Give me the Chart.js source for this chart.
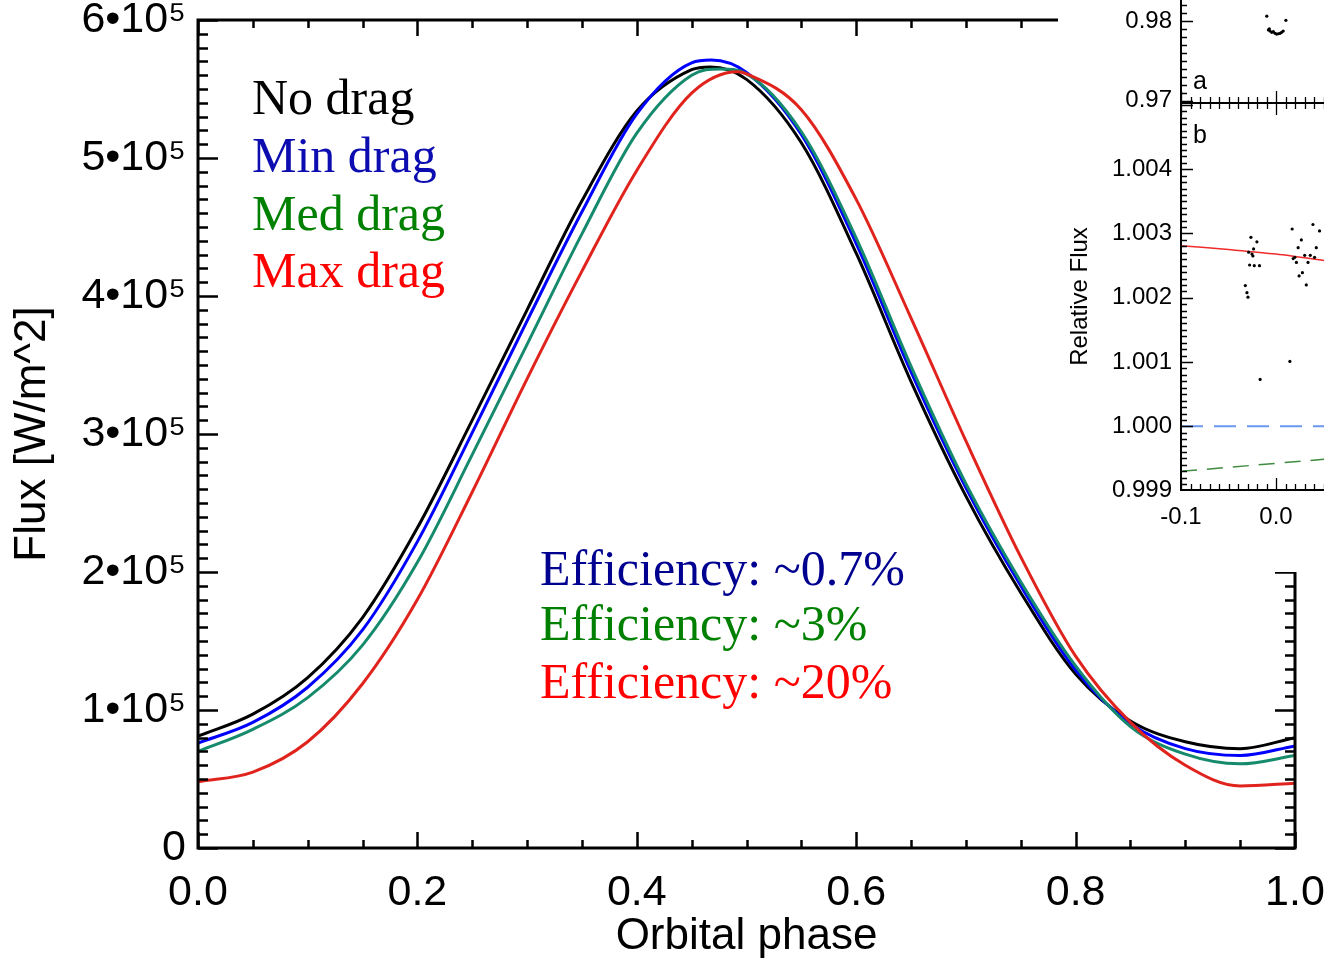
<!DOCTYPE html>
<html>
<head>
<meta charset="utf-8">
<script src="https://cdn.jsdelivr.net/npm/chart.js@4.4.1/dist/chart.umd.min.js"></script>
<style>
  html, body { margin: 0; padding: 0; background: #fff; overflow: hidden; }
  #wrap { position: relative; width: 1324px; height: 960px; overflow: hidden; }
  #main { position: absolute; left: 0; top: 0; }
  .note { position: absolute; font-family: "Liberation Serif", "Times New Roman", serif; font-size: 50px; line-height: 1; white-space: nowrap; }
  #inset { position: absolute; left: 1058px; top: 0; width: 266px; height: 572px; background: #fff; overflow: hidden; }
  #panelA { position: absolute; left: 0; top: -260px; }
  #panelB { position: absolute; left: 0; top: 0; }
  .tag { position: absolute; font-family: "Liberation Sans", Arial, sans-serif; font-size: 25px; line-height: 1; }
</style>
</head>
<body>
<div id="wrap">
  <canvas id="main" width="1324" height="960"></canvas>

  <div class="note" style="left:252px; top:72px; color:#000;">No drag</div>
  <div class="note" style="left:252px; top:130px; color:#0c0cb0;">Min drag</div>
  <div class="note" style="left:252px; top:188px; color:#008000;">Med drag</div>
  <div class="note" style="left:252px; top:245px; color:#ff0000;">Max drag</div>

  <div class="note" style="left:540px; top:543px; color:#000090;">Efficiency: ~0.7%</div>
  <div class="note" style="left:540px; top:598px; color:#008000;">Efficiency: ~3%</div>
  <div class="note" style="left:540px; top:656px; color:#ff0000;">Efficiency: ~20%</div>

  <div id="inset">
    <canvas id="panelB" width="420" height="545"></canvas>
    <canvas id="panelA" width="420" height="370"></canvas>
    <div class="tag" style="left:135px; top:68px;">a</div>
    <div class="tag" style="left:135px; top:122px;">b</div>
  </div>
</div>

<script>
// model light curves, flux in units of 1e5 W/m^2
// phases every 0.05, plus the peak of each curve
const noDragPhase  = [0, 0.05, 0.10, 0.15, 0.20, 0.25, 0.30, 0.35, 0.40, 0.45, 0.467, 0.50,
                      0.55, 0.60, 0.65, 0.70, 0.75, 0.80, 0.85, 0.90, 0.95, 1.00];
const noDrag       = [0.81, 0.97, 1.235, 1.67, 2.32, 3.10, 3.90, 4.69, 5.34, 5.64, 5.66, 5.57,
                      5.11, 4.31, 3.38, 2.55, 1.85, 1.26, 0.92, 0.77, 0.72, 0.80];
const minDragPhase = [0, 0.05, 0.10, 0.15, 0.20, 0.25, 0.30, 0.35, 0.40, 0.45, 0.468, 0.50,
                      0.55, 0.60, 0.65, 0.70, 0.75, 0.80, 0.85, 0.90, 0.95, 1.00];
const minDrag      = [0.76, 0.91, 1.165, 1.58, 2.22, 3.01, 3.82, 4.61, 5.32, 5.69, 5.71, 5.62,
                      5.17, 4.38, 3.45, 2.61, 1.90, 1.29, 0.90, 0.72, 0.67, 0.74];
const medDragPhase = [0, 0.05, 0.10, 0.15, 0.20, 0.25, 0.30, 0.35, 0.40, 0.45, 0.476, 0.50,
                      0.55, 0.60, 0.65, 0.70, 0.75, 0.80, 0.85, 0.90, 0.95, 1.00];
const medDrag      = [0.70, 0.86, 1.09, 1.47, 2.07, 2.85, 3.65, 4.45, 5.18, 5.60, 5.645, 5.61,
                      5.19, 4.42, 3.49, 2.64, 1.93, 1.32, 0.88, 0.68, 0.61, 0.67];
const maxDragPhase = [0, 0.05, 0.10, 0.15, 0.20, 0.25, 0.30, 0.35, 0.40, 0.45, 0.492, 0.50,
                      0.55, 0.60, 0.65, 0.70, 0.75, 0.80, 0.85, 0.90, 0.95, 1.00];
const maxDrag      = [0.48, 0.55, 0.77, 1.19, 1.80, 2.58, 3.40, 4.18, 4.91, 5.47, 5.625, 5.61,
                      5.35, 4.70, 3.84, 2.95, 2.11, 1.39, 0.91, 0.60, 0.45, 0.47];

const mainXTicks = [0, 0.2, 0.4, 0.6, 0.8, 1.0];
const mainYTicks = [0, 1, 2, 3, 4, 5, 6];

// inset (piece of another figure), panel a
const aPhase = [-0.0097, -0.0080, -0.0070, -0.0063, -0.0045, -0.0028, -0.0010, 0.0007,
                0.0024, 0.0042, 0.0059, 0.0076, 0.0104];
const aFlux  = [0.98065, 0.97891, 0.97904, 0.97878, 0.97861, 0.97870, 0.97848, 0.97839,
                0.97843, 0.97848, 0.97861, 0.97878, 0.98013];
const aYTicks = [0.97, 0.98, 0.99, 1.00, 1.01];

// panel b
const bPhase = [-0.0323, -0.0306, -0.0295, -0.0288, -0.0278, -0.0264, -0.0253, -0.0243,
                -0.0236, -0.0229, -0.0201, -0.0174, -0.0167,
                0.0146, 0.0170, 0.0181, 0.0198, 0.0215, 0.0233, 0.0243, 0.0267, 0.0278,
                0.0302, 0.0319, 0.0337, 0.0361, 0.0389, 0.0406, 0.0424, 0.0458];
const bFlux  = [1.00219, 1.00208, 1.00201, 1.00271, 1.00251, 1.00294, 1.00268, 1.00265,
                1.00276, 1.00250, 1.00287, 1.00250, 1.00073,
                1.00101, 1.00307, 1.00261, 1.00263, 1.00255, 1.00278, 1.00234, 1.00290, 1.00239,
                1.00266, 1.00220, 1.00255, 1.00266, 1.00314, 1.00263, 1.00278, 1.00304];
const fitPhase = [-0.10, -0.05, 0.00, 0.06];
const fitFlux  = [1.00281, 1.00275, 1.00268, 1.00256];
const basePhase = [-0.10, 0.06];
const baseFlux  = [1.00000, 1.00000];
const trendPhase = [-0.10, 0.06];
const trendFlux  = [0.99930, 0.99950];
const bXTicks = [-0.1, 0.0, 0.1, 0.2];
const bYTicks = [0.999, 1.000, 1.001, 1.002, 1.003, 1.004];

const SANS = "'Liberation Sans', Arial, Helvetica, sans-serif";
Chart.defaults.font.family = SANS;
Chart.defaults.color = '#000';

function pts(xs, ys) {
    return xs.map((x, i) => ({ x: x, y: ys[i] }));
}

// fixed axis box size, and no extra room for labels that hang over the ends
function fixSize(w, h) {
    return s => {
        if (w !== null) s.width = w;
        if (h !== null) s.height = h;
        s.paddingTop = 0; s.paddingBottom = 0;
        s.paddingLeft = 0; s.paddingRight = 0;
    };
}

// IDL-style frame: box plus inward major/minor ticks on all four sides
const frameTicks = {
    id: 'frameTicks',
    afterDatasetsDraw(chart, args, o) {
        const { ctx, chartArea: a, scales: { x, y } } = chart;
        ctx.save();
        ctx.strokeStyle = '#000';
        ctx.lineWidth = o.tickWidth;
        ctx.beginPath();
        const n1 = Math.ceil(x.min / o.xMinor - 1e-6), n2 = Math.floor(x.max / o.xMinor + 1e-6);
        for (let i = n1; i <= n2; i++) {
            const v = i * o.xMinor;
            const major = Math.abs(v / o.xMajor - Math.round(v / o.xMajor)) < 1e-4;
            const len = major ? o.xLen[0] : o.xLen[1];
            const px = Math.round(x.getPixelForValue(v)) + 0.5;
            ctx.moveTo(px, a.bottom); ctx.lineTo(px, a.bottom - len);
            ctx.moveTo(px, a.top); ctx.lineTo(px, a.top + len);
        }
        const m1 = Math.ceil(y.min / o.yMinor - 1e-6), m2 = Math.floor(y.max / o.yMinor + 1e-6);
        for (let i = m1; i <= m2; i++) {
            const v = i * o.yMinor;
            const major = Math.abs(v / o.yMajor - Math.round(v / o.yMajor)) < 1e-4;
            const len = major ? o.yLen[0] : o.yLen[1];
            const py = Math.round(y.getPixelForValue(v)) + 0.5;
            ctx.moveTo(a.left, py); ctx.lineTo(a.left + len, py);
            ctx.moveTo(a.right, py); ctx.lineTo(a.right - len, py);
        }
        ctx.stroke();
        ctx.lineWidth = o.frameWidth;
        ctx.strokeRect(a.left, a.top, a.right - a.left, a.bottom - a.top);
        ctx.restore();
    }
};

function curve(label, xs, values, color, order) {
    return {
        label: label,
        data: pts(xs, values),
        borderColor: color,
        borderWidth: 3,
        pointRadius: 0,
        cubicInterpolationMode: 'monotone',
        fill: false,
        order: order
    };
}

new Chart(document.getElementById('main'), {
    type: 'line',
    data: {
        datasets: [
            curve('No drag', noDragPhase, noDrag, '#000000', 4),
            curve('Min drag', minDragPhase, minDrag, '#0000ff', 3),
            curve('Med drag', medDragPhase, medDrag, '#168a6c', 2),
            curve('Max drag', maxDragPhase, maxDrag, '#e0231c', 1)
        ]
    },
    options: {
        responsive: false,
        animation: false,
        devicePixelRatio: 1,
        layout: { padding: { top: 20, right: 29, left: 0, bottom: 0 } },
        plugins: {
            legend: { display: false },
            tooltip: { enabled: false },
            frameTicks: {
                xMinor: 0.05, xMajor: 0.2, yMinor: 0.1, yMajor: 1,
                xLen: [16, 8], yLen: [20, 10], tickWidth: 2.5, frameWidth: 3
            }
        },
        scales: {
            x: {
                type: 'linear', min: 0, max: 1,
                afterBuildTicks: s => { s.ticks = mainXTicks.map(v => ({ value: v })); },
                afterFit: fixSize(null, 112),
                grid: { display: false, drawTicks: false },
                border: { display: false },
                ticks: { font: { size: 43 }, padding: 19, maxRotation: 0, autoSkip: false,
                         callback: v => v.toFixed(1) },
                title: { display: true, text: 'Orbital phase', font: { size: 44, lineHeight: 1 },
                         padding: { top: 0, bottom: 1 } }
            },
            y: {
                type: 'linear', min: 0, max: 6,
                afterBuildTicks: s => { s.ticks = mainYTicks.map(v => ({ value: v })); },
                afterFit: fixSize(198, null),
                grid: { display: false, drawTicks: false },
                border: { display: false },
                ticks: { font: { size: 43 }, padding: 12, autoSkip: false,
                         callback: v => v === 0 ? '0' : v + '\u2022' + '10\u2075' },
                title: { display: true, text: 'Flux [W/m^2]', font: { size: 44, lineHeight: 1 },
                         padding: { top: 11, bottom: 0 } }
            }
        }
    },
    plugins: [frameTicks]
});

const insetFrame = {
    xMinor: 0.01, xMajor: 0.1,
    xLen: [12, 6], tickWidth: 1.3, frameWidth: 2
};

// panel b
new Chart(document.getElementById('panelB'), {
    type: 'line',
    data: {
        datasets: [
            { data: pts(bPhase, bFlux), showLine: false, pointRadius: 1.6, pointBorderWidth: 0,
              pointBackgroundColor: '#000' },
            { data: pts(fitPhase, fitFlux), borderColor: '#f02a2a', borderWidth: 1.5, pointRadius: 0, tension: 0.3 },
            { data: pts(basePhase, baseFlux), borderColor: '#6a98ee', borderWidth: 2, pointRadius: 0,
              borderDash: [22, 11] },
            { data: pts(trendPhase, trendFlux), borderColor: '#3f8b3f', borderWidth: 1.5, pointRadius: 0,
              borderDash: [16, 10] }
        ]
    },
    options: {
        responsive: false,
        animation: false,
        devicePixelRatio: 1,
        layout: { padding: { top: 103, right: 12, left: 0, bottom: 0 } },
        plugins: {
            legend: { display: false },
            tooltip: { enabled: false },
            frameTicks: Object.assign({ yMinor: 0.0001, yMajor: 0.001, yLen: [12, 6] }, insetFrame)
        },
        scales: {
            x: {
                type: 'linear', min: -0.1, max: 0.2,
                afterBuildTicks: s => { s.ticks = bXTicks.map(v => ({ value: v })); },
                afterFit: fixSize(null, 55),
                grid: { display: false, drawTicks: false },
                border: { display: false },
                ticks: { font: { size: 24 }, padding: 13, maxRotation: 0, autoSkip: false,
                         callback: v => v.toFixed(1) }
            },
            y: {
                type: 'linear', min: 0.99901, max: 1.00503,
                afterBuildTicks: s => { s.ticks = bYTicks.map(v => ({ value: v })); },
                afterFit: fixSize(123, null),
                grid: { display: false, drawTicks: false },
                border: { display: false },
                ticks: { font: { size: 24 }, padding: 9, autoSkip: false,
                         callback: v => v.toFixed(3) },
                title: { display: true, text: 'Relative Flux', font: { size: 24, lineHeight: 1 },
                         padding: { top: 10, bottom: 0 } }
            }
        }
    },
    plugins: [frameTicks]
});

// panel a
new Chart(document.getElementById('panelA'), {
    type: 'line',
    data: {
        datasets: [
            { data: pts(aPhase, aFlux), showLine: false, pointRadius: 1.6, pointBorderWidth: 0,
              pointBackgroundColor: '#000' }
        ]
    },
    options: {
        responsive: false,
        animation: false,
        devicePixelRatio: 1,
        layout: { padding: { top: 20, right: 12, left: 0, bottom: 0 } },
        plugins: {
            legend: { display: false },
            tooltip: { enabled: false },
            frameTicks: Object.assign({ yMinor: 0.001, yMajor: 0.01, yLen: [12, 6] }, insetFrame)
        },
        scales: {
            x: {
                type: 'linear', min: -0.1, max: 0.2,
                afterFit: fixSize(null, 7),
                grid: { display: false, drawTicks: false },
                border: { display: false },
                ticks: { display: false }
            },
            y: {
                type: 'linear', min: 0.9697, max: 1.01295,
                afterBuildTicks: s => { s.ticks = aYTicks.map(v => ({ value: v })); },
                afterFit: fixSize(123, null),
                grid: { display: false, drawTicks: false },
                border: { display: false },
                ticks: { font: { size: 24 }, padding: 9, autoSkip: false,
                         callback: v => v.toFixed(2) },
                title: { display: true, text: 'Relative Flux', font: { size: 24, lineHeight: 1 },
                         padding: { top: 10, bottom: 0 } }
            }
        }
    },
    plugins: [frameTicks]
});
</script>
</body>
</html>
